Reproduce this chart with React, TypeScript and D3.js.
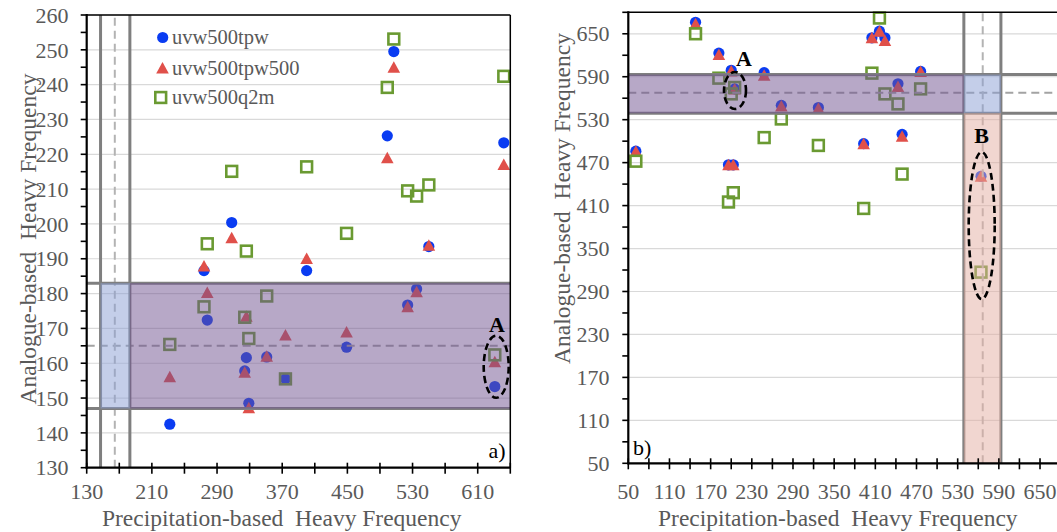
import React from 'react';
import * as d3 from 'd3';

// ---------- data ----------
const seriesNames = ['uvw500tpw', 'uvw500tpw500', 'uvw500q2m'];
const seriesColors = ['#0a3cf2', '#e0504a', '#6a9a32'];

// panel a)
const precipA = [232, 274, 278, 308, 324, 326, 329, 351, 374, 400, 449, 499, 507, 524, 535, 550, 631, 642];
const tpwA = [142.5, 186.6, 172.4, 200.4, 157.8, 161.6, 148.5, 161.8, 155.5, 186.6, 164.6, 225.3, 249.5, 176.7, 181.3, 193.5, 153.3, 223.3];
const tpw500A = [156.1, 187.9, 180.3, 196, 157.4, 173.5, 147.2, 162, 168.1, 190.1, 169, 219, 245, 176.2, 180.5, 193.9, 160.4, 217.1];
const q2mA = [165.4, 176.2, 194.3, 215.1, 173.2, 192.2, 167.1, 179.3, 155.5, 216.4, 197.3, 239.2, 253.1, 209.5, 208, 211.2, 162.4, 242.4];

// panel b)
const precipB = [61, 148, 182, 200, 205, 196, 203, 248, 273, 327, 393, 405, 416, 424, 443, 449, 476, 564];
const tpwB = [486, 666, 623, 599, 573, 467, 467, 595.6, 550, 547, 496.5, 644.4, 653.7, 644.4, 580.2, 509.5, 597.4, 451];
const tpw500B = [486, 664, 621, 598, 573, 467, 467, 592, 549, 546, 496.5, 644.4, 653.7, 640.7, 576.5, 506.7, 597.4, 451];
const q2mB = [472, 650, 588, 566, 575, 415, 428, 505, 531, 494, 406, 595, 672, 566, 552, 454, 573, 317];

// bands [low, median, high]
const hBandA = [147, 165, 183];
const vBandA = [147, 164.5, 183];
const hBandB = [539, 567.5, 593];
const vBandB = [539, 566.5, 593];

// ticks
const xLabelsA = [130, 210, 290, 370, 450, 530, 610];
const xMinorA = d3.range(130, 651, 40);
const yLabelsA = d3.range(130, 261, 10);
const yMinorA = d3.range(130, 261, 5);
const xLabelsB = [50, 110, 170, 230, 290, 350, 410, 470, 530, 590, 650];
const xMinorB = d3.range(50, 681, 30);
const yLabelsB = [50, 110, 170, 230, 290, 350, 410, 470, 530, 590, 650];
const yMinorB = d3.range(50, 681, 30);

const FONT = '"Liberation Serif", "Times New Roman", serif';
const GRAY_TXT = '#595959';

type Sc = d3.ScaleLinear<number, number>;

function Markers({ xs, ys, kind, x, y }: { xs: number[]; ys: number[]; kind: number; x: Sc; y: Sc }) {
  return (
    <g>
      {xs.map((xv, i) => {
        const cx = x(xv);
        const cy = y(ys[i]);
        if (kind === 0) return <circle key={i} cx={cx} cy={cy} r={5.6} fill={seriesColors[0]} />;
        if (kind === 1)
          return (
            <path key={i} d={`M${cx},${cy - 6}L${cx + 6.3},${cy + 5.5}L${cx - 6.3},${cy + 5.5}Z`} fill={seriesColors[1]} />
          );
        return (
          <rect key={i} x={cx - 5.4} y={cy - 5.4} width={10.8} height={10.8} fill="none" stroke={seriesColors[2]} strokeWidth={2.6} />
        );
      })}
    </g>
  );
}

function Panel(props: {
  x: Sc; y: Sc; xLabels: number[]; xMinor: number[]; yLabels: number[]; yMinor: number[];
  pre: number[]; s1: number[]; s2: number[]; s3: number[];
  hBand: number[]; vBand: number[]; mode: 'a' | 'b';
  yLabelX: number; rightEdge: number; drawRight: boolean;
}) {
  const { x, y, xLabels, xMinor, yLabels, yMinor, pre, s1, s2, s3, hBand, vBand, mode, yLabelX, rightEdge, drawRight } = props;
  const [x0, x1] = x.range();
  const [yb, yt] = y.range();
  const xr = Math.min(x1, rightEdge);
  const purple = 'rgba(111,81,144,0.5)';
  const blue = 'rgba(137,157,211,0.5)';
  const pink = 'rgba(227,173,161,0.5)';
  const bandTop = y(hBand[2]);
  const bandBot = y(hBand[0]);
  const vL = x(vBand[0]);
  const vR = x(vBand[2]);
  return (
    <g>
      {yLabels.map((v) => (
        <line key={'g' + v} x1={x0} x2={xr} y1={y(v)} y2={y(v)} stroke="#d9d9d9" strokeWidth={1.2} />
      ))}
      <Markers xs={pre} ys={s1} kind={0} x={x} y={y} />
      <Markers xs={pre} ys={s2} kind={1} x={x} y={y} />
      <Markers xs={pre} ys={s3} kind={2} x={x} y={y} />
      <line x1={x0} x2={xr} y1={y(hBand[1])} y2={y(hBand[1])} stroke="#a3a3a3" strokeWidth={2} strokeDasharray="8,5" />
      <line x1={x(vBand[1])} x2={x(vBand[1])} y1={yb} y2={yt} stroke="#b3b3b3" strokeWidth={2} strokeDasharray="8,5" />
      <line x1={x0} x2={xr} y1={bandTop} y2={bandTop} stroke="#7f7f7f" strokeWidth={3} />
      <line x1={x0} x2={xr} y1={bandBot} y2={bandBot} stroke="#7f7f7f" strokeWidth={3} />
      <line x1={vL} x2={vL} y1={yb} y2={yt} stroke="#7f7f7f" strokeWidth={3} />
      <line x1={vR} x2={vR} y1={yb} y2={yt} stroke="#7f7f7f" strokeWidth={3} />
      {mode === 'a' ? (
        <>
          <rect x={vR} y={bandTop} width={xr - vR} height={bandBot - bandTop} fill={purple} />
          <rect x={vL} y={bandTop} width={vR - vL} height={bandBot - bandTop} fill={blue} />
        </>
      ) : (
        <>
          <rect x={x0} y={bandTop} width={vL - x0} height={bandBot - bandTop} fill={purple} />
          <rect x={vL} y={bandTop} width={vR - vL} height={bandBot - bandTop} fill={blue} />
          <rect x={vL} y={bandBot} width={vR - vL} height={yb - bandBot} fill={pink} />
        </>
      )}
      <line x1={x0} x2={xr} y1={yt} y2={yt} stroke="#000" strokeWidth={1.5} />
      {drawRight && <line x1={x1} x2={x1} y1={yt} y2={yb} stroke="#000" strokeWidth={1.5} />}
      <line x1={x0} x2={x0} y1={yt - 1} y2={yb + 1} stroke="#000" strokeWidth={2.2} />
      <line x1={x0 - 1} x2={xr} y1={yb} y2={yb} stroke="#000" strokeWidth={2.2} />
      {xMinor.map((v) => (
        <line key={'xt' + v} x1={x(v)} x2={x(v)} y1={yb - 5} y2={yb + 6} stroke="#000" strokeWidth={1.6} />
      ))}
      {yMinor.map((v) => (
        <line key={'yt' + v} x1={x0 - 6} x2={x0} y1={y(v)} y2={y(v)} stroke="#000" strokeWidth={1.6} />
      ))}
      {xLabels.map((v) => (
        <text key={'xl' + v} x={x(v)} y={498.5} textAnchor="middle" fontFamily={FONT} fontSize={22} fill={GRAY_TXT}>
          {v}
        </text>
      ))}
      {yLabels.map((v) => (
        <text key={'yl' + v} x={yLabelX} y={y(v)} dy="0.35em" textAnchor="end" fontFamily={FONT} fontSize={22} fill={GRAY_TXT}>
          {v}
        </text>
      ))}
    </g>
  );
}

export default function App() {
  const xA = d3.scaleLinear().domain([130, 650]).range([86.7, 510.3]);
  const yA = d3.scaleLinear().domain([130, 260]).range([467.7, 15]);
  const xB = d3.scaleLinear().domain([50, 680]).range([628.3, 628.3 + 630 * 0.6862]);
  const yB = d3.scaleLinear().domain([50, 680]).range([463.3, 12.3]);

  const legendY = [37.5, 68, 97.5];

  return (
    <svg width={1057} height={532} style={{ position: 'fixed', left: 0, top: 0, background: '#fff' }}>
      <rect x={0} y={0} width={1057} height={532} fill="#fff" />
      <Panel x={xA} y={yA} xLabels={xLabelsA} xMinor={xMinorA} yLabels={yLabelsA} yMinor={yMinorA}
        pre={precipA} s1={tpwA} s2={tpw500A} s3={q2mA} hBand={hBandA} vBand={vBandA} mode="a"
        yLabelX={68.5} rightEdge={1057} drawRight={true} />
      <Panel x={xB} y={yB} xLabels={xLabelsB} xMinor={xMinorB} yLabels={yLabelsB} yMinor={yMinorB}
        pre={precipB} s1={tpwB} s2={tpw500B} s3={q2mB} hBand={hBandB} vBand={vBandB} mode="b"
        yLabelX={609.5} rightEdge={1057} drawRight={false} />

      <g fontFamily={FONT} fontSize={20.5} fill={GRAY_TXT}>
        <circle cx={162.7} cy={legendY[0]} r={5.6} fill={seriesColors[0]} />
        <path d={`M162.5,${legendY[1] - 6}L168.8,${legendY[1] + 5.5}L156.2,${legendY[1] + 5.5}Z`} fill={seriesColors[1]} />
        <rect x={155.3} y={legendY[2] - 5.4} width={10.8} height={10.8} fill="none" stroke={seriesColors[2]} strokeWidth={2.6} />
        {seriesNames.map((n, i) => (
          <text key={n} x={172} y={legendY[i]} dy="0.33em">{n}</text>
        ))}
      </g>

      <g fontFamily={FONT} fontWeight="bold" fontSize={22} fill="#000" textAnchor="middle">
        <text x={497} y={331.5}>A</text>
        <text x={744} y={65.7}>A</text>
        <text x={981.7} y={143.3}>B</text>
      </g>
      <g fill="none" stroke="#000" strokeWidth={2.6} strokeDasharray="7,4">
        <ellipse cx={496.2} cy={366.7} rx={12.5} ry={31} />
        <ellipse cx={735} cy={90.5} rx={11} ry={18.5} />
        <ellipse cx={981.7} cy={225.5} rx={13} ry={73.5} />
      </g>
      <text x={505.5} y={458} textAnchor="end" fontFamily={FONT} fontSize={22} fill="#000">a)</text>
      <text x={633} y={455} fontFamily={FONT} fontSize={22} fill="#000">b)</text>

      <g fontFamily={FONT} fontSize={23.5} fill={GRAY_TXT} textAnchor="middle">
        <text x={281.7} y={526} xmlSpace="preserve">{'Precipitation-based  Heavy Frequency'}</text>
        <text x={837.8} y={526} xmlSpace="preserve">{'Precipitation-based  Heavy Frequency'}</text>
        <text transform="translate(36,239) rotate(-90)" xmlSpace="preserve">{'Analogue-based  Heavy Frequency'}</text>
        <text transform="translate(569.5,198.5) rotate(-90)" xmlSpace="preserve">{'Analogue-based  Heavy Frequency'}</text>
      </g>
    </svg>
  );
}
